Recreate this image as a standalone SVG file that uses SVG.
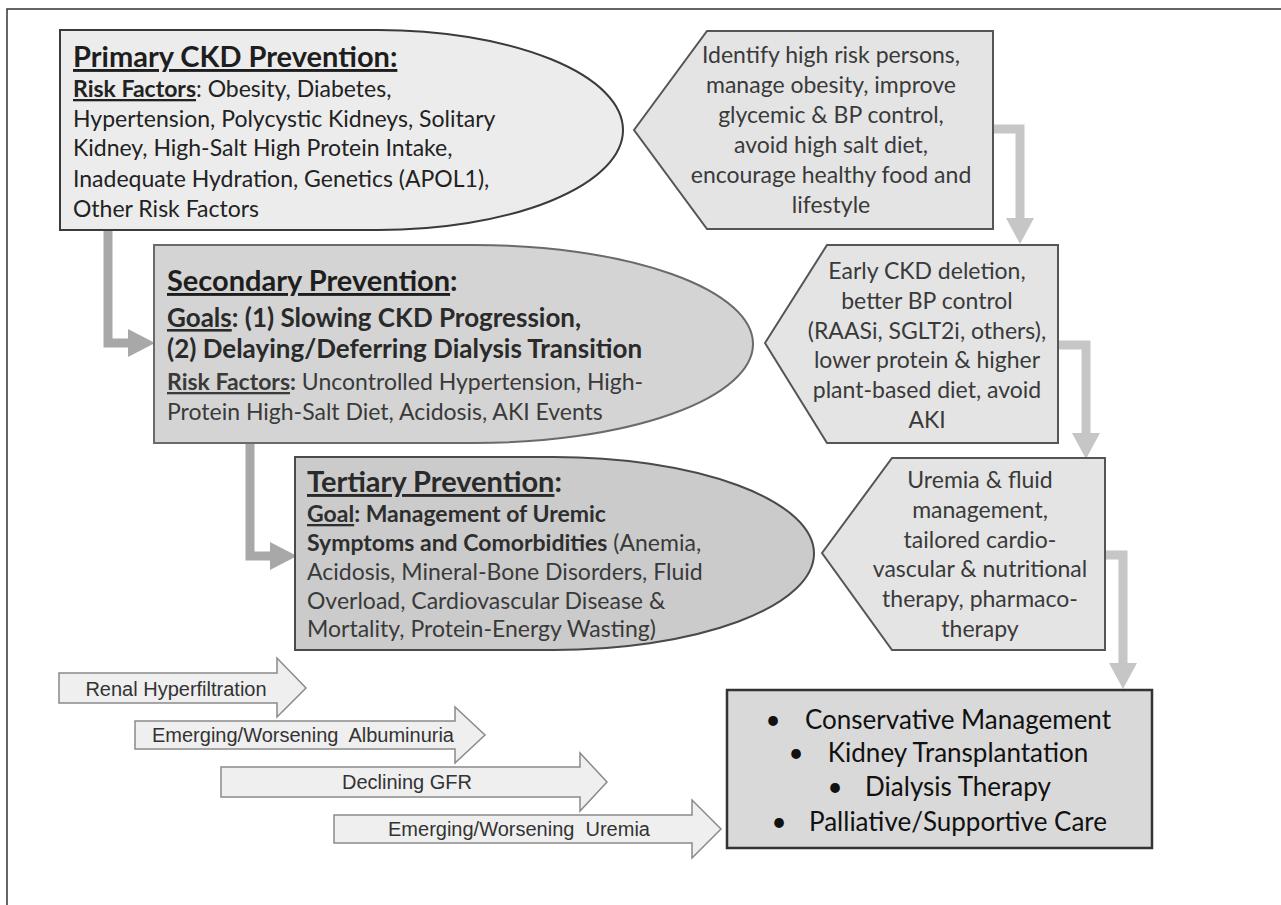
<svg xmlns="http://www.w3.org/2000/svg" width="1281" height="905" viewBox="0 0 1281 905">
<style>
text{font-family:Lato,"Open Sans",sans-serif;}
.title{font-size:29px;font-weight:700;fill:#1e1e1e;}
.body{font-size:23px;fill:#222;}
.b{font-weight:700;}
.u{text-decoration:underline;}
.pent{fill:#e4e4e4;stroke:#555;stroke-width:2;}
.ptext{font-size:23px;fill:#3a3a3a;text-anchor:middle;}
.barrow{fill:#efefef;stroke:#8a8a8a;stroke-width:1.5;}
.atext{font-family:"Liberation Sans",Arial,sans-serif;font-size:20px;fill:#333;text-anchor:middle;}
.cl{fill:none;stroke:#a8a8a8;stroke-width:9;}
.cr{fill:none;stroke:#c6c6c6;stroke-width:9;}
.box{font-size:26px;fill:#111;}
</style>
<defs>
<marker id="ahL" markerUnits="userSpaceOnUse" markerWidth="27" markerHeight="28" refX="0" refY="14" orient="auto"><path d="M0,0 L27,14 L0,28 Z" fill="#a8a8a8"/></marker>
<marker id="ahR" markerUnits="userSpaceOnUse" markerWidth="26" markerHeight="28" refX="0" refY="14" orient="auto"><path d="M0,0 L26,14 L0,28 Z" fill="#c6c6c6"/></marker>
</defs>
<rect x="7" y="9" width="1400" height="1000" fill="#fff" stroke="#333" stroke-width="1.5"/>

<g id="connectors">
<polyline class="cl" points="108,230 108,343 128,343" marker-end="url(#ahL)"/>
<polyline class="cl" points="250,443 250,556 270,556" marker-end="url(#ahL)"/>
<polyline class="cr" points="993,129 1020,129 1020,218" marker-end="url(#ahR)"/>
<polyline class="cr" points="1058,345 1086,345 1086,433" marker-end="url(#ahR)"/>
<polyline class="cr" points="1105,555 1123,555 1123,663" marker-end="url(#ahR)"/>
</g>

<g id="primary">
<path d="M60,30 H378 A245,100 0 0 1 378,230 H60 Z" fill="#ececec" stroke="#3a3a3a" stroke-width="2"/>
<text x="73" y="67" class="title u">Primary CKD Prevention:</text>
<text x="73" y="97" class="body"><tspan class="b u">Risk Factors</tspan>: Obesity, Diabetes,</text>
<text x="73" y="127" class="body">Hypertension, Polycystic Kidneys, Solitary</text>
<text x="73" y="156" class="body">Kidney, High-Salt High Protein Intake,</text>
<text x="73" y="187" class="body">Inadequate Hydration, Genetics (APOL1),</text>
<text x="73" y="217" class="body">Other Risk Factors</text>
</g>

<g id="secondary">
<path d="M154,245 H475 A278,99 0 0 1 475,443 H154 Z" fill="#d4d4d4" stroke="#6a6a6a" stroke-width="2"/>
<text x="167" y="291" class="title"><tspan class="u">Secondary Prevention</tspan>:</text>
<text x="167" y="327" class="body b" style="font-size:26px;fill:#2a2a2a"><tspan class="u">Goals</tspan>: (1) Slowing CKD Progression,</text>
<text x="167" y="358" class="body b" style="font-size:26px;fill:#2a2a2a">(2) Delaying/Deferring Dialysis Transition</text>
<text x="167" y="390" class="body" style="fill:#3a3a3a"><tspan class="b u">Risk Factors</tspan><tspan class="b">:</tspan> Uncontrolled Hypertension, High-</text>
<text x="167" y="420" class="body" style="fill:#3a3a3a">Protein High-Salt Diet, Acidosis, AKI Events</text>
</g>

<g id="tertiary">
<path d="M295,457 H554 A260,96.5 0 0 1 554,650 H295 Z" fill="#cbcbcb" stroke="#4a4a4a" stroke-width="2"/>
<text x="307" y="492" class="title" style="fill:#2a2a2a"><tspan class="u">Tertiary Prevention</tspan>:</text>
<text x="307" y="522" class="body b" style="fill:#2e2e2e"><tspan class="u">Goal</tspan>: Management of Uremic</text>
<text x="307" y="551" class="body" style="fill:#3a3a3a"><tspan class="b" style="fill:#2e2e2e">Symptoms and Comorbidities</tspan> (Anemia,</text>
<text x="307" y="580" class="body" style="fill:#3a3a3a">Acidosis, Mineral-Bone Disorders, Fluid</text>
<text x="307" y="609" class="body" style="fill:#3a3a3a">Overload, Cardiovascular Disease &amp;</text>
<text x="307" y="637" class="body" style="fill:#3a3a3a">Mortality, Protein-Energy Wasting)</text>
</g>

<g id="action1">
<polygon class="pent" points="634,130 707,31 993,31 993,229 707,229"/>
<text class="ptext" x="831" y="63">Identify high risk persons,</text>
<text class="ptext" x="831" y="93">manage obesity, improve</text>
<text class="ptext" x="831" y="123">glycemic &amp; BP control,</text>
<text class="ptext" x="831" y="153">avoid high salt diet,</text>
<text class="ptext" x="831" y="183">encourage healthy food and</text>
<text class="ptext" x="831" y="213">lifestyle</text>
</g>

<g id="action2">
<polygon class="pent" points="765,343 827,245 1058,245 1058,443 827,443"/>
<text class="ptext" x="927" y="279">Early CKD deletion,</text>
<text class="ptext" x="927" y="309">better BP control</text>
<text class="ptext" x="927" y="339">(RAASi, SGLT2i, others),</text>
<text class="ptext" x="927" y="368">lower protein &amp; higher</text>
<text class="ptext" x="927" y="398">plant-based diet, avoid</text>
<text class="ptext" x="927" y="428">AKI</text>
</g>

<g id="action3">
<polygon class="pent" points="822,553 892,458 1105,458 1105,650 892,650"/>
<text class="ptext" x="980" y="488">Uremia &amp; fluid</text>
<text class="ptext" x="980" y="518">management,</text>
<text class="ptext" x="980" y="548">tailored cardio-</text>
<text class="ptext" x="980" y="577">vascular &amp; nutritional</text>
<text class="ptext" x="980" y="607">therapy, pharmaco-</text>
<text class="ptext" x="980" y="637">therapy</text>
</g>

<g id="outcomes">
<rect x="727" y="690" width="425" height="158" fill="#d9d9d9" stroke="#333" stroke-width="2.5"/>
<text class="box" x="773" y="729" text-anchor="middle">•</text>
<text class="box" x="958" y="729" text-anchor="middle">Conservative Management</text>
<text class="box" x="796" y="762" text-anchor="middle">•</text>
<text class="box" x="958" y="762" text-anchor="middle">Kidney Transplantation</text>
<text class="box" x="835" y="796" text-anchor="middle">•</text>
<text class="box" x="958" y="796" text-anchor="middle">Dialysis Therapy</text>
<text class="box" x="779" y="831" text-anchor="middle">•</text>
<text class="box" x="958" y="831" text-anchor="middle">Palliative/Supportive Care</text>
</g>

<g id="arrow-hyperfiltration">
<polygon class="barrow" points="59,673 277,673 277,658 306,688 277,717 277,703 59,703"/>
<text class="atext" x="176" y="696">Renal Hyperfiltration</text>
</g>
<g id="arrow-albuminuria">
<polygon class="barrow" points="135,721 455,721 455,707 485,735 455,763 455,749 135,749"/>
<text class="atext" x="303" y="742" xml:space="preserve">Emerging/Worsening  Albuminuria</text>
</g>
<g id="arrow-gfr">
<polygon class="barrow" points="221,767 580,767 580,753 607,782 580,811 580,797 221,797"/>
<text class="atext" x="407" y="789">Declining GFR</text>
</g>
<g id="arrow-uremia">
<polygon class="barrow" points="334,815 692,815 692,800 721,829 692,858 692,843 334,843"/>
<text class="atext" x="519" y="836" xml:space="preserve">Emerging/Worsening  Uremia</text>
</g>
</svg>
